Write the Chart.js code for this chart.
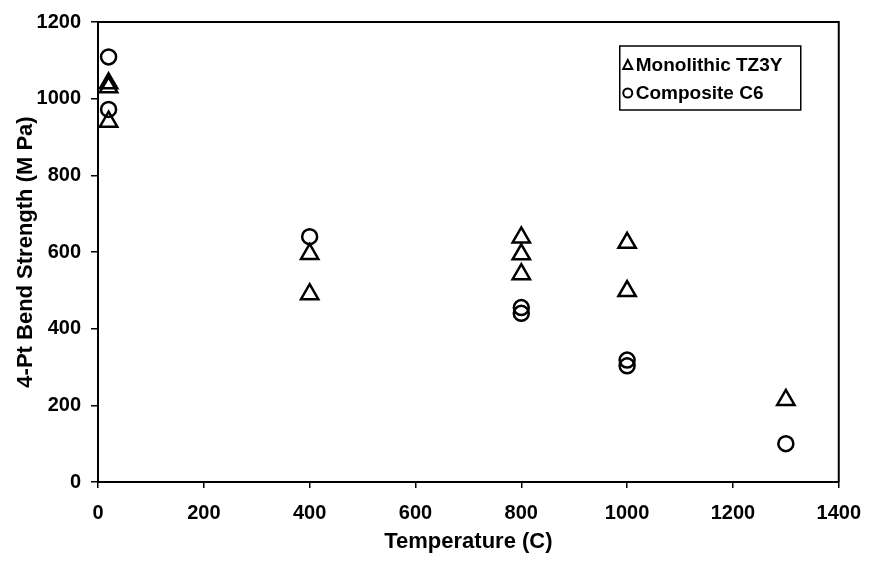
<!DOCTYPE html>
<html>
<head>
<meta charset="utf-8">
<script src="https://cdn.jsdelivr.net/npm/chart.js@4.4.1/dist/chart.umd.min.js"></script>
<style>
  html, body { margin: 0; padding: 0; background: #fff; }
  canvas { display: block; }
</style>
</head>
<body>
<canvas id="chart" width="874" height="564"></canvas>
<script>
// Monolithic TZ3Y (triangles)
const monoTemp = [20, 20, 20, 400, 400, 800, 800, 800, 1000, 1000, 1300];
const monoStrength = [1040, 1030, 940, 595, 490, 638, 594, 542, 624, 498, 214];

// Composite C6 (circles)
const compTemp = [20, 20, 400, 800, 800, 1000, 1000, 1300];
const compStrength = [1109, 972, 640, 455, 440, 318, 303, 100];

const xTicks = [0, 200, 400, 600, 800, 1000, 1200, 1400];
const yTicks = [0, 200, 400, 600, 800, 1000, 1200];

const FONT = "'Liberation Sans', Arial, sans-serif";

const toPoints = (xs, ys) => xs.map((x, i) => ({ x, y: ys[i] }));

// box around the plot area (top + right edges)
const frame = {
    id: "frame",
    beforeDatasetsDraw(chart) {
        const { ctx, chartArea: a } = chart;
        ctx.save();
        ctx.strokeStyle = "#000";
        ctx.lineWidth = 2;
        ctx.beginPath();
        ctx.moveTo(a.left, a.top);
        ctx.lineTo(a.right, a.top);
        ctx.lineTo(a.right, a.bottom);
        ctx.stroke();
        ctx.restore();
    }
};

// legend box drawn inside the plot, top-right
const boxLegend = {
    id: "boxLegend",
    afterDraw(chart) {
        const { ctx, chartArea: a } = chart;
        const w = 181, h = 64;
        const x = a.right - 38 - w, y = a.top + 24;
        ctx.save();
        ctx.fillStyle = "#fff";
        ctx.fillRect(x, y, w, h);
        ctx.strokeStyle = "#000";
        ctx.lineWidth = 1.5;
        ctx.strokeRect(x, y, w, h);
        ctx.font = "bold 19px " + FONT;
        ctx.fillStyle = "#000";
        ctx.textBaseline = "middle";
        chart.data.datasets.forEach((ds, i) => {
            const cy = y + 19 + i * 28;
            ctx.lineWidth = 2;
            ctx.beginPath();
            if (ds.pointStyle === "triangle") {
                ctx.moveTo(x + 8, cy - 5);
                ctx.lineTo(x + 12.5, cy + 4);
                ctx.lineTo(x + 3.5, cy + 4);
                ctx.closePath();
            } else {
                ctx.arc(x + 8, cy, 4.5, 0, Math.PI * 2);
            }
            ctx.stroke();
            ctx.fillText(ds.label, x + 16, cy + 1);
        });
        ctx.restore();
    }
};

const plain = (v) => String(v);

new Chart(document.getElementById("chart"), {
    type: "scatter",
    data: {
        datasets: [{
            label: "Monolithic TZ3Y",
            data: toPoints(monoTemp, monoStrength),
            pointStyle: "triangle",
            pointRadius: 10,
            borderColor: "#000",
            backgroundColor: "rgba(0,0,0,0)",
            borderWidth: 2.5
        }, {
            label: "Composite C6",
            data: toPoints(compTemp, compStrength),
            pointStyle: "circle",
            pointRadius: 7.5,
            borderColor: "#000",
            backgroundColor: "rgba(0,0,0,0)",
            borderWidth: 2.5
        }]
    },
    options: {
        responsive: false,
        animation: false,
        layout: {
            padding: { top: 18, right: 26, left: 0, bottom: 0 }
        },
        plugins: {
            legend: { display: false },
            tooltip: { enabled: false }
        },
        scales: {
            x: {
                type: "linear",
                min: 0,
                max: 1400,
                afterBuildTicks: (s) => { s.ticks = xTicks.map((v) => ({ value: v })); },
                afterFit: (s) => { s.height = 82; },
                ticks: {
                    color: "#000",
                    padding: 13,
                    callback: plain,
                    font: { family: FONT, size: 20, weight: "bold" }
                },
                grid: { drawOnChartArea: false, tickLength: 6, color: "#000", lineWidth: 1.5 },
                border: { color: "#000", width: 2 },
                title: {
                    display: true,
                    text: "Temperature (C)",
                    color: "#000",
                    font: { family: FONT, size: 22, weight: "bold" },
                    padding: { top: 0, bottom: 9 }
                }
            },
            y: {
                min: 0,
                max: 1200,
                afterBuildTicks: (s) => { s.ticks = yTicks.map((v) => ({ value: v })); },
                afterFit: (s) => { s.width = 98; },
                ticks: {
                    color: "#000",
                    padding: 10,
                    callback: plain,
                    font: { family: FONT, size: 20, weight: "bold" }
                },
                grid: { drawOnChartArea: false, tickLength: 7, color: "#000", lineWidth: 1.5 },
                border: { color: "#000", width: 2 },
                title: {
                    display: true,
                    text: "4-Pt Bend Strength (M Pa)",
                    color: "#000",
                    font: { family: FONT, size: 22, weight: "bold" },
                    padding: { top: 13, bottom: 0 }
                }
            }
        }
    },
    plugins: [frame, boxLegend]
});
</script>
</body>
</html>
